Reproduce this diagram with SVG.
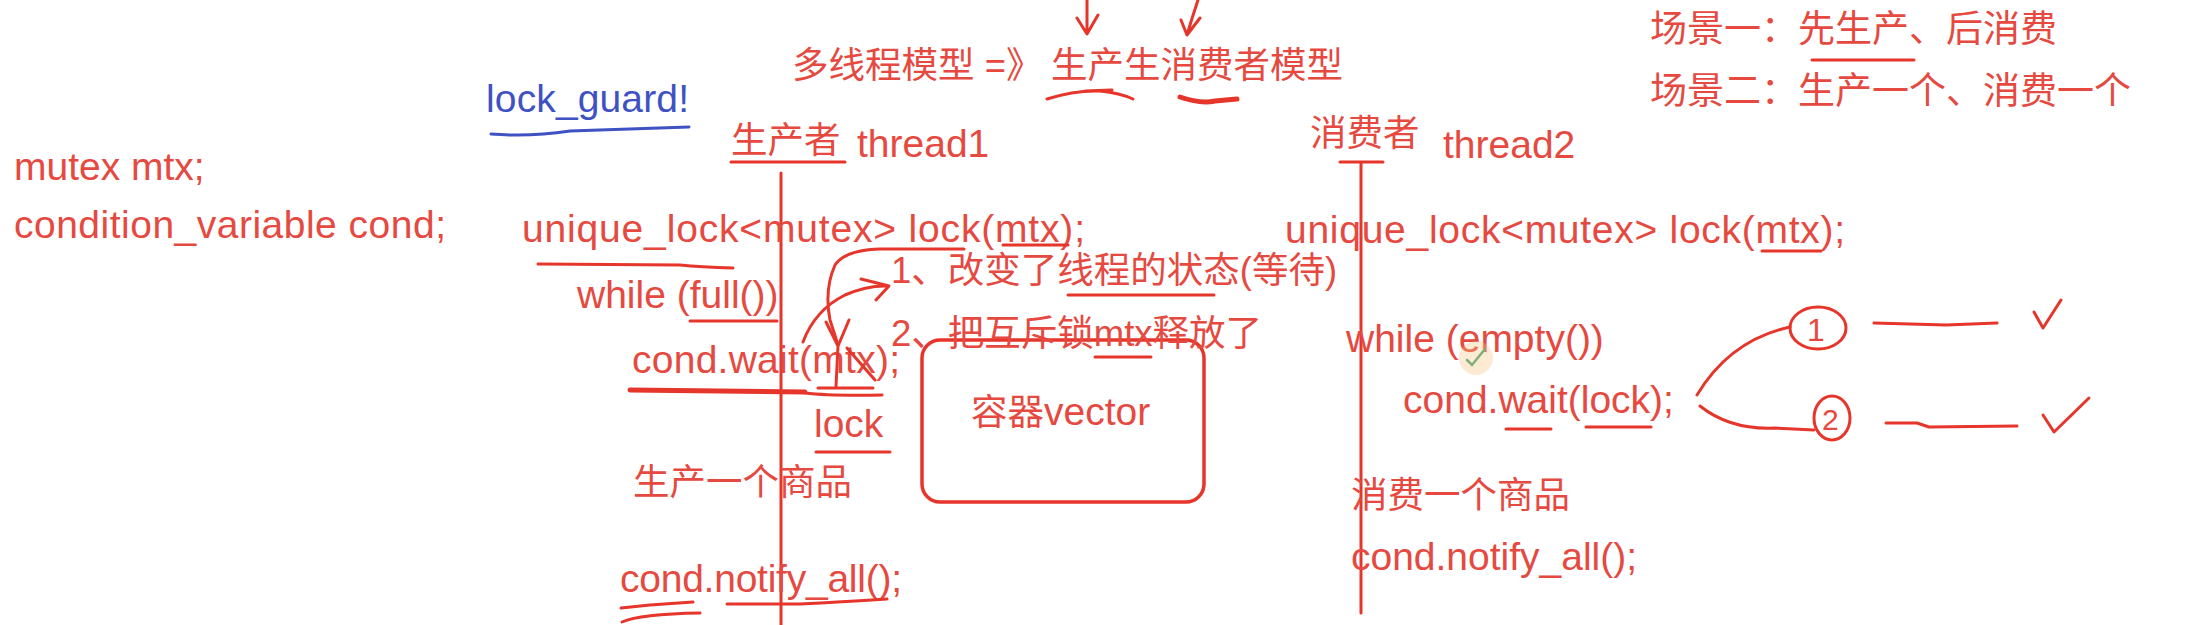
<svg xmlns="http://www.w3.org/2000/svg" width="2196" height="625" viewBox="0 0 2196 625">
<style>
text{font-family:"Liberation Sans","Noto Sans CJK SC",sans-serif;fill:#e5493f;font-size:39px}
.cjk{font-family:"Liberation Sans","Noto Sans CJK SC",sans-serif;font-size:36.5px}
.blue{fill:#3f52c4}
.ink{fill:none;stroke:#e6352b;stroke-width:3;stroke-linecap:round;stroke-linejoin:round}
.thick{stroke-width:5}
.bink{fill:none;stroke:#3f52c4;stroke-width:3;stroke-linecap:round}
</style>
<rect width="2196" height="625" fill="#ffffff"/>

<g id="globals">
  <text x="14" y="180">mutex mtx;</text>
  <text x="14" y="238" textLength="432" lengthAdjust="spacing">condition_variable cond;</text>
</g>

<g id="lock-guard">
  <text class="blue" x="486" y="112" textLength="203" lengthAdjust="spacing">lock_guard!</text>
  <path class="bink" d="M491,134 Q530,137 570,131 L689,127"/>
</g>

<g id="title">
  <text class="cjk" x="792" y="78">多线程模型 =》</text>
  <text class="cjk" x="1051" y="78">生产生消费者模型</text>
</g>

<g id="scenarios">
  <text class="cjk" x="1650" y="42" style="font-size:37px">场景一：先生产、后消费</text>
  <text class="cjk" x="1650" y="104" style="font-size:37px">场景二：生产一个、消费一个</text>
  <path class="ink" d="M1812,60 L1914,60"/>
</g>

<g id="producer">
  <text class="cjk" x="731" y="153">生产者</text>
  <text x="857" y="157">thread1</text>
  <path class="ink" d="M731,162 L845,162"/>
  <path class="ink" d="M781,173 L781,625"/>
  <text x="522" y="242" textLength="563" lengthAdjust="spacing">unique_lock&lt;mutex&gt; lock(mtx);</text>
  <text x="577" y="308">while (full())</text>
  <text x="632" y="373" textLength="268" lengthAdjust="spacing">cond.wait(mtx);</text>
  <text x="814" y="437">lock</text>
  <text class="cjk" x="633" y="495">生产一个商品</text>
  <text x="620" y="592" textLength="282" lengthAdjust="spacing">cond.notify_all();</text>
</g>

<g id="container">
  <rect x="922" y="340" width="282" height="162" rx="18" fill="none" stroke="#e6352b" stroke-width="3.5"/>
  <text class="cjk" x="971" y="425">容器<tspan style="font-size:39px">vector</tspan></text>
</g>

<g id="wait-notes">
  <text class="cjk" x="891" y="283">1、改变了线程的状态(等待)</text>
  <text class="cjk" x="891" y="346">2、把互斥锁mtx释放了</text>
</g>

<g id="consumer">
  <text class="cjk" x="1310" y="146">消费者</text>
  <text x="1443" y="158">thread2</text>
  <path class="ink" d="M1340,162 L1383,162 M1361,162 L1361,613"/>
  <text x="1285" y="243" textLength="560" lengthAdjust="spacing">unique_lock&lt;mutex&gt; lock(mtx);</text>
  <text x="1346" y="352">while (empty())</text>
  <text x="1403" y="413">cond.wait(lock);</text>
  <text class="cjk" x="1351" y="508">消费一个商品</text>
  <text x="1351" y="570" textLength="286" lengthAdjust="spacing">cond.notify_all();</text>
</g>

<g id="wakeup-cases">
  <ellipse class="ink" cx="1818" cy="328" rx="28" ry="21"/>
  <text x="1807" y="341" style="font-size:32px">1</text>
  <ellipse class="ink" cx="1832" cy="418" rx="18" ry="22"/>
  <text x="1822" y="430" style="font-size:30px">2</text>
</g>

<g id="cursor">
  <circle cx="1476" cy="358" r="17" fill="#f6c27e" opacity="0.35"/>
  <path d="M1467,360 L1472,365 L1485,349" fill="none" stroke="#7fb07a" stroke-width="2.5" stroke-linecap="round"/>
</g>

<g id="connectors">
  <!-- top arrows -->
  <path class="ink" d="M1087,0 L1087,33 M1077,18 L1087,34 L1098,15"/>
  <path class="ink" d="M1198,0 Q1192,18 1187,35 M1181,20 L1187,35 L1200,18"/>
  <!-- title underlines -->
  <path class="ink" d="M1047,99 Q1075,90 1100,91 Q1120,93 1133,99 M1085,91 L1112,90"/>
  <path class="ink thick" d="M1180,97 Q1200,104 1215,101 L1237,99"/>
  <!-- producer underlines -->
  <path class="ink" d="M538,264 L680,265 Q700,267 733,268"/>
  <path class="ink" d="M690,321 L777,321"/>
  <path class="ink" d="M1003,245 L1068,245"/>
  <path class="ink" d="M1068,295 L1214,295"/>
  <path class="ink" d="M1095,357 L1151,357"/>
  <path class="ink thick" d="M630,390 L805,392"/>
  <path class="ink" d="M805,393 Q830,396 882,395"/>
  <path class="ink" d="M816,452 L890,452"/>
  <path class="ink" d="M621,608 L650,605 L693,602 M622,622 Q640,614 700,613"/>
  <path class="ink" d="M727,604 L800,604 Q840,602 887,599"/>
  <!-- lock -> mtx curve -->
  <path class="ink" d="M964,249 L880,249 Q845,250 835,265 Q824,290 830,320 L838,345"/>
  <path class="ink" d="M826,322 L838,346 L849,320 M838,346 L836,386 M818,388 L873,388 M847,348 L875,380"/>
  <!-- arrow to note 1 -->
  <path class="ink" d="M803,342 Q815,310 845,295 Q868,285 888,286 M861,279 L889,286 L876,300"/>
  <!-- consumer -->
  <path class="ink" d="M1762,251 L1821,251"/>
  <path class="ink" d="M1506,429 L1551,429 M1586,427 L1651,427"/>
  <path class="ink" d="M1697,395 Q1730,340 1790,327"/>
  <path class="ink" d="M1700,406 Q1730,430 1775,428 L1814,430"/>
  <path class="ink" d="M1874,323 L1946,325 L1997,323"/>
  <path class="ink" d="M2034,312 L2043,328 L2061,300"/>
  <path class="ink" d="M1886,423 L1917,423 L1929,427 L2017,426"/>
  <path class="ink" d="M2043,415 L2054,432 L2089,398"/>
</g>
</svg>
